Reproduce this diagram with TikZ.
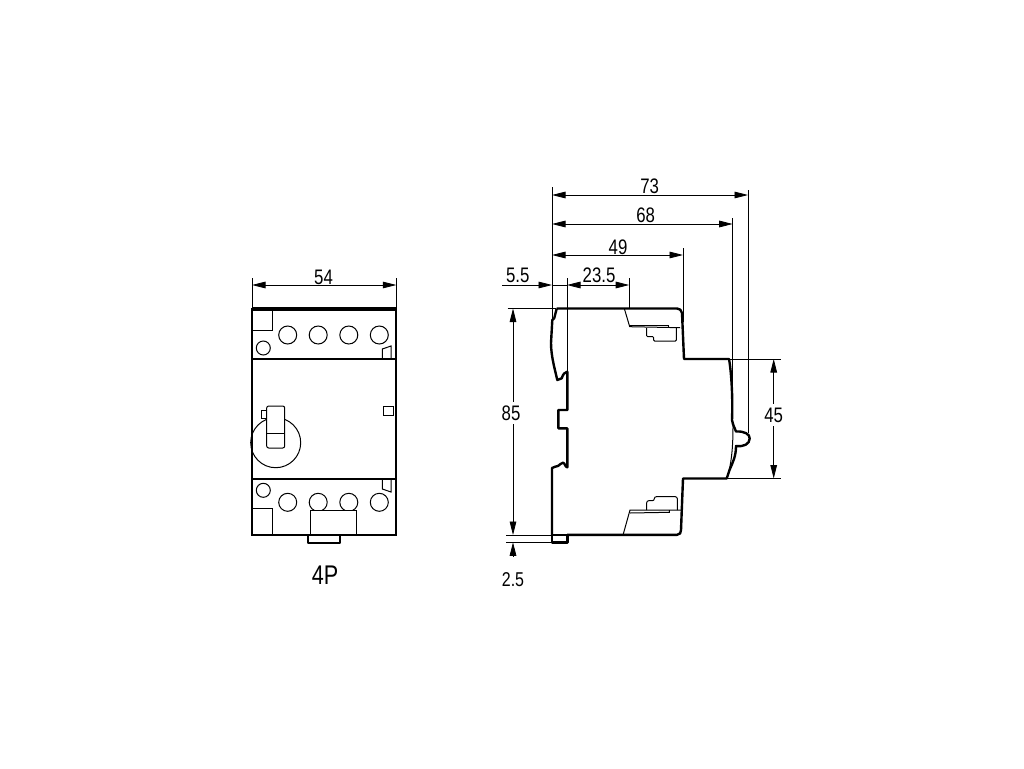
\documentclass[tikz,border=0pt]{standalone}
\usepackage{fontspec}
\setmainfont[FakeStretch=0.8]{Liberation Sans}
\usetikzlibrary{arrows.meta}
\tikzset{
  thick line/.style={line width=2.4pt, line join=round},
  thin line/.style={line width=1pt},
  mid line/.style={line width=1.1pt},
  dim line/.style={line width=0.8pt, >={Triangle[length=13.5pt,width=6.6pt]}},
  dim label/.style={inner sep=1pt, font=\fontsize{21}{21}\selectfont},
}
\begin{document}
\begin{tikzpicture}[x=1pt, y=-1pt, anchor=center]
    \useasboundingbox (0,0) rectangle (1024,768);

    % front view
    \draw[thin line] (252,330) -- (272,330) -- (272,309);
    \draw[thin line] (252,508) -- (272,508) -- (272,535);
    \draw[mid line] (252,359) -- (396,359);
    \draw[mid line] (252,479) -- (396,479);
    \foreach \posx in {287.7, 318.2, 348.8, 379.3} {
        \draw[thin line] (\posx,335) circle (9);
        \draw[thin line] (\posx,502.3) circle (9);
    }
    \draw[thin line] (263.3,348) circle (7);
    \draw[thin line] (263.3,490.3) circle (7);
    \draw[thin line] (382.3,359) -- (382.3,349) -- (391,346) -- (391,359);
    \draw[thin line] (382.3,479) -- (382.3,489) -- (391,492) -- (391,479);
    \draw[thin line] (383.7,406.7) rectangle (393.7,415);
    \draw[thin line] (261.7,410.7) rectangle (267,418);
    \draw[thin line] (275.7,442.7) circle (25);
    \draw[thin line, fill=white, rounded corners=2pt] (266.7,406) rectangle (284.7,448);
    \draw[thin line] (266.7,433) -- (284.7,433);
    \draw[mid line, fill=white] (310.7,535) -- (310.7,510.7) -- (356.3,510.7) -- (356.3,535);
    \draw[thick line] (308,535) -- (308,542.7) -- (340,542.7) -- (340,535);
    \draw[line width=2.6pt] (252,309) rectangle (396,535);
    \draw[line width=3.2pt] (252,309) -- (396,309);

    % 54
    \draw[dim line] (252,278) -- (252,308);
    \draw[dim line] (396.3,278) -- (396.3,308);
    \draw[dim line, <->] (252,285) -- (396.3,285);
    \node[dim label] (w54) at (323.5,277) {54};
    \node[inner sep=1pt, font=\fontsize{27}{27}\selectfont] (name4p) at (325,575.5) {4P};

    % side view, details
    \draw[thin line] (624.3,308.5) -- (629.7,326.7) -- (680,327.7);
    \draw[thin line] (629.7,325.2) -- (668,325.2) -- (668,327);
    \draw[thin line, rounded corners=1pt] (646.7,328) -- (646.7,336.7) -- (653.7,336.7) -- (653.7,341) -- (676.3,341) -- (676.3,328);
    \draw[thin line] (623.3,534) -- (630,510) -- (681,510);
    \draw[thin line] (630,513) -- (669.3,512.3) -- (669.3,510);
    \draw[thin line, rounded corners=2pt] (646.7,510) -- (646.7,500.7) -- (654.3,500.7) -- (654.3,496.7) -- (677.3,496.7) -- (677.3,510);
    \draw[thin line] (733,425) .. controls (733,445) and (732,462) .. (727,478);

    % side view, outline
    \draw[thick line] (556.7,308.5) -- (677,308.5) .. controls (680,308.5) and (681,310) .. (682,313)
        -- (684,359) -- (729,359) .. controls (731,370) and (733,395) .. (732,420)
        .. controls (733,426) and (735,428) .. (736,431.5)
        .. controls (744,431) and (750,434) .. (749.7,438.5) .. controls (749.5,444) and (744,447) .. (736,446)
        .. controls (736,456) and (733,462) .. (729.5,470) -- (726.7,478.5)
        -- (683,478.5) -- (681,530) .. controls (681,533) and (680,534.5) .. (677,534.8) -- (567,534.8);
    \draw[thick line] (552,534.8) -- (552,468) .. controls (554,466.5) and (557,466.5) .. (558,466)
        .. controls (560,465) and (561,462.7) .. (563,462.7) .. controls (565,463) and (565,467) .. (567.3,467.3)
        -- (567.3,428.3) -- (558.3,428.3) -- (558.3,410) -- (567.3,410) -- (567.3,371.7)
        .. controls (565,372) and (563,374) .. (561.7,378.3) .. controls (560,380) and (559,380) .. (557.3,380)
        .. controls (555,370) and (551,356) .. (551,343) -- (552.3,320) -- (554.3,318) -- (556.7,308.5);
    \draw[thick line] (552,534.8) rectangle (567.3,542.5);

    % side view, dimensions
    \draw[dim line] (552,187) -- (552,320);
    \draw[dim line] (748,190) -- (748,433);
    \draw[dim line] (732.7,218) -- (732.7,392);
    \draw[dim line] (683,248) -- (683,322);
    \draw[dim line] (629.2,278) -- (629.2,309);
    \draw[dim line] (567,278) -- (567,372);
    \draw[dim line, <->] (552,195) -- (748,195);
    \draw[dim line, <->] (552,224) -- (732.7,224);
    \draw[dim line, <->] (552,255) -- (683,255);
    \draw[dim line, ->] (502,285) -- (552,285);
    \draw[dim line] (552,285) -- (567,285);
    \draw[dim line, <->] (567,285) -- (629.2,285);
    \node[dim label] (d73) at (649.7,186) {73};
    \node[dim label] (d68) at (645.7,215) {68};
    \node[dim label] (d49) at (618,247) {49};
    \node[dim label] (d55) at (517.7,275) {5.5};
    \node[dim label] (d235) at (599,275) {23.5};

    \draw[dim line] (507.7,308.5) -- (556,308.5);
    \draw[dim line] (506,535) -- (552,535);
    \draw[dim line] (506,542.3) -- (552,542.3);
    \draw[dim line, <->] (513,308.5) -- (513,535);
    \draw[dim line, <-] (513,542.3) -- (513,555.7);
    \node[dim label, fill=white, inner ysep=4pt] (d85) at (511,413) {85};
    \node[inner sep=1pt, font=\fontsize{20}{20}\selectfont] (d25) at (513,580) {2.5};

    \draw[dim line] (729,359) -- (780.7,359);
    \draw[dim line] (727,478.5) -- (780.7,478.5);
    \draw[dim line, <->] (773.7,359) -- (773.7,478.5);
    \node[dim label, fill=white, inner ysep=4pt] (d45) at (773.7,415) {45};
\end{tikzpicture}
\end{document}
